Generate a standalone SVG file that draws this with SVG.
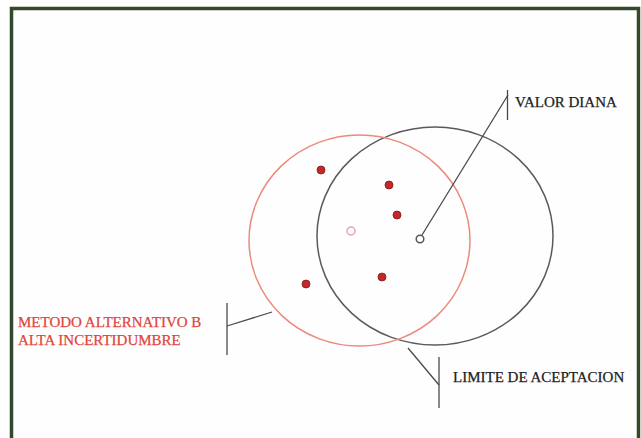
<svg xmlns="http://www.w3.org/2000/svg" width="641" height="438" viewBox="0 0 641 438">
<style>
.lbl{font-family:"Liberation Serif","Times New Roman",serif;font-size:15px;fill:#222;stroke:#222;stroke-width:0.25}
.red{fill:#e2443c;stroke:#e2443c}
.lead{stroke:#4a4a4a;stroke-width:1.3;fill:none}
.dot{fill:#c4282a;stroke:#7a1a1a;stroke-width:0.8}
</style>
<rect x="0" y="0" width="641" height="438" fill="#fff"/>
<rect id="frame" x="11.5" y="8.5" width="627" height="445" fill="#fefefe" stroke="#34482a" stroke-width="3.5"/>
<g id="limite-circle"><ellipse cx="435" cy="236" rx="118" ry="109" fill="none" stroke="#5a5a5a" stroke-width="1.5"/></g>
<g id="metodo-circle"><ellipse cx="359.5" cy="240.5" rx="110.5" ry="105.5" fill="none" stroke="#ec8a7c" stroke-width="1.5"/></g>
<g id="connectors">
<line class="lead" x1="422" y1="235" x2="508" y2="95"/>
<line class="lead" x1="507.5" y1="90" x2="507.5" y2="120"/>
<line class="lead" x1="227" y1="326" x2="272" y2="312"/>
<line class="lead" x1="227" y1="303" x2="227" y2="355"/>
<line class="lead" x1="408" y1="348" x2="439" y2="385"/>
<line class="lead" x1="439" y1="357" x2="439" y2="408"/>
</g>
<g id="points">
<circle class="dot" cx="321" cy="170" r="4"/>
<circle class="dot" cx="389" cy="185" r="4"/>
<circle class="dot" cx="397" cy="215" r="4"/>
<circle class="dot" cx="382" cy="277" r="4"/>
<circle class="dot" cx="306" cy="284" r="4"/>
<circle cx="351" cy="231" r="4" fill="#fff" stroke="#e8a0b4" stroke-width="1.5"/>
</g>
<g id="valor-diana">
<circle cx="420" cy="239" r="3.8" fill="#fff" stroke="#555" stroke-width="1.5"/>
<text class="lbl" x="515" y="107">VALOR DIANA</text>
</g>
<g id="metodo-label">
<text class="lbl red" x="18" y="327">METODO ALTERNATIVO B</text>
<text class="lbl red" x="18" y="345">ALTA INCERTIDUMBRE</text>
</g>
<g id="limite-label">
<text class="lbl" x="453" y="382">LIMITE DE ACEPTACION</text>
</g>
</svg>
